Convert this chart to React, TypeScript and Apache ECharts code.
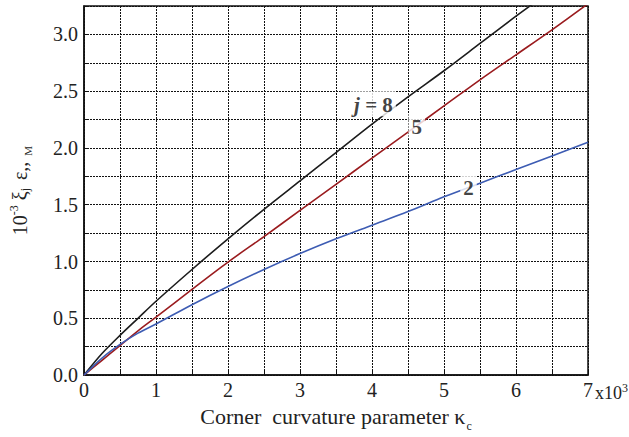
import React, { useEffect, useRef } from "react";
import * as echarts from "echarts";

// Corner curvature parameter (x10^3)
const kappa = [0, 0.25, 0.5, 0.75, 1, 1.5, 2, 2.5, 3, 3.5, 4, 4.5, 5, 5.5, 6, 6.5, 7];

// 10^-3 xi_j for j = 8, 5, 2
const j8 = [0, 0.19, 0.35, 0.5, 0.65, 0.93, 1.2, 1.46, 1.71, 1.96, 2.21, 2.45, 2.68, 2.92, 3.16, 3.39, 3.6];
const j5 = [0, 0.13, 0.26, 0.39, 0.51, 0.755, 0.995, 1.22, 1.45, 1.68, 1.91, 2.14, 2.37, 2.6, 2.82, 3.04, 3.27];
const j2 = [0, 0.15, 0.27, 0.37, 0.45, 0.62, 0.78, 0.93, 1.07, 1.2, 1.32, 1.44, 1.57, 1.69, 1.81, 1.93, 2.05];

// Curve annotations: [kappa, value, text]
const curveLabels: [number, number, string][] = [
  [4.02, 2.39, "{i|j} = 8"],
  [4.62, 2.195, "5"],
  [5.34, 1.66, "2"],
];

const xTicks = [0, 1, 2, 3, 4, 5, 6, 7];
const yTicks = [0, 0.5, 1, 1.5, 2, 2.5, 3];

const FONT = "Liberation Serif";

function pairs(ys: number[]) {
  return kappa.map((x, i) => [x, ys[i]]);
}

export default function App() {
  const ref = useRef<HTMLDivElement>(null);

  useEffect(() => {
    if (!ref.current) return;
    const chart = echarts.init(ref.current, undefined, { renderer: "svg" });
    const near = (v: number, arr: number[]) => arr.some((t) => Math.abs(t - v) < 1e-6);

    chart.setOption({
      animation: false,
      backgroundColor: "#fff",
      textStyle: { fontFamily: FONT },
      grid: {
        left: 84,
        right: 41,
        top: 6,
        bottom: 58,
        show: true,
        borderColor: "#111",
        borderWidth: 1.5,
        backgroundColor: "transparent",
      },
      xAxis: {
        type: "value",
        min: 0,
        max: 7,
        interval: 0.5,
        axisLine: { show: true, lineStyle: { color: "#111", width: 1.5 } },
        axisTick: { show: true, inside: true, length: 5, lineStyle: { color: "#111" } },
        axisLabel: {
          color: "#222",
          fontSize: 20,
          fontFamily: FONT,
          margin: 5,
          showMaxLabel: true,
          formatter: (v: number) => (near(v, xTicks) ? String(Math.round(v)) : ""),
        },
        splitLine: { show: true, lineStyle: { color: "#111", width: 1, type: [2, 1] } },
        name: "{t|Corner  curvature parameter κ}{s|c}",
        nameLocation: "middle",
        nameGap: 28,
        nameTextStyle: {
          rich: {
            t: { fontFamily: FONT, fontSize: 22, color: "#222", verticalAlign: "bottom" },
            s: { fontFamily: FONT, fontSize: 12, color: "#222", verticalAlign: "bottom", padding: [0, 0, -5, 1] },
          },
        },
      },
      yAxis: {
        type: "value",
        min: 0,
        max: 3.25,
        interval: 0.25,
        axisLine: { show: true, lineStyle: { color: "#111", width: 1.5 } },
        axisTick: { show: true, inside: true, length: 5, lineStyle: { color: "#111" } },
        axisLabel: {
          color: "#222",
          fontSize: 20,
          fontFamily: FONT,
          margin: 6,
          formatter: (v: number) => (near(v, yTicks) ? v.toFixed(1) : ""),
        },
        splitLine: { show: true, lineStyle: { color: "#111", width: 1, type: [2, 1] } },
        name: "{t|10}{p|-3}{t| ξ}{s|j}{t| ε,,}{m|M}",
        nameLocation: "middle",
        nameRotate: 90,
        nameGap: 52,
        nameTextStyle: {
          rich: {
            t: { fontFamily: FONT, fontSize: 20, color: "#222" },
            p: { fontFamily: FONT, fontSize: 12, color: "#222", padding: [0, 0, 12, 0] },
            s: { fontFamily: FONT, fontSize: 12, color: "#222", padding: [0, 3, -10, 0] },
            m: { fontFamily: FONT, fontSize: 11, color: "#222", padding: [0, 0, -16, 6] },
          },
        },
      },
      graphic: [
        {
          type: "text",
          left: 595,
          top: 382,
          style: {
            text: "{t|x10}{p|3}",
            rich: {
              t: { fontFamily: FONT, fontSize: 18, fill: "#222" },
              p: { fontFamily: FONT, fontSize: 12, fill: "#222", padding: [0, 0, 10, 0] },
            },
          },
        },
      ],
      series: [
        {
          name: "j = 8",
          type: "line",
          data: pairs(j8),
          smooth: 0.3,
          showSymbol: false,
          clip: true,
          lineStyle: { color: "#1c1c1c", width: 1.6 },
        },
        {
          name: "j = 5",
          type: "line",
          data: pairs(j5),
          smooth: 0.3,
          showSymbol: false,
          clip: true,
          lineStyle: { color: "#9a1b1e", width: 1.6 },
        },
        {
          name: "j = 2",
          type: "line",
          data: pairs(j2),
          smooth: 0.3,
          showSymbol: false,
          clip: true,
          lineStyle: { color: "#3d5cb3", width: 1.6 },
        },
        {
          type: "scatter",
          symbolSize: 0,
          silent: true,
          z: 10,
          data: curveLabels.map(([x, y, t]) => ({ value: [x, y], name: t })),
          label: {
            show: true,
            position: "inside",
            formatter: (p: any) => p.name,
            fontFamily: FONT,
            fontSize: 21,
            fontWeight: "bold",
            color: "#111",
            backgroundColor: "#fff",
            padding: [3, 3, 1, 3],
            rich: {
              i: { fontFamily: FONT, fontSize: 21, fontWeight: "bold", fontStyle: "italic", color: "#111" },
            },
          },
        },
      ],
    });

    return () => chart.dispose();
  }, []);

  return (
    <div
      ref={ref}
      style={{ position: "fixed", left: 0, top: 0, width: 629, height: 437, background: "#fff" }}
    />
  );
}
